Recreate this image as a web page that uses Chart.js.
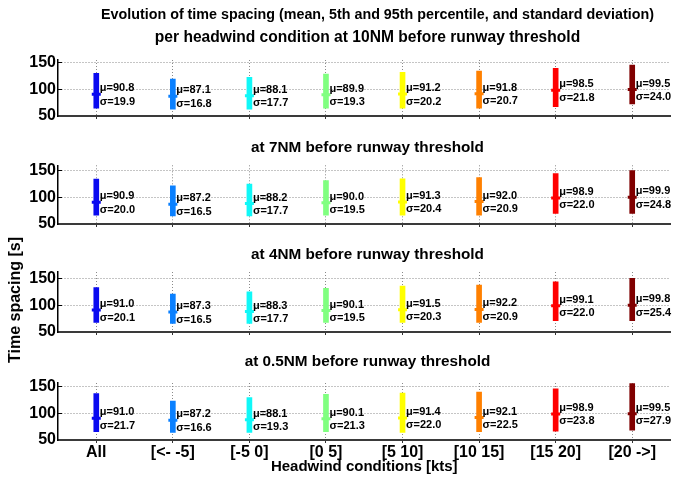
<!DOCTYPE html>
<html>
<head>
<meta charset="utf-8">
<script src="https://cdn.jsdelivr.net/npm/chart.js@4.4.1/dist/chart.umd.min.js"></script>
<style>
  body { margin: 0; background: #fff; }
  #wrap { position: relative; width: 678px; height: 477px; overflow: hidden; font-family: "Liberation Sans", Arial, sans-serif; }
  #wrap canvas { position: absolute; left: 0; top: 0; }
  .txt { position: absolute; left: 58px; width: 619px; text-align: center; font-weight: bold; color: #000; white-space: nowrap; line-height: 16px; }
  #ytitle { position: absolute; left: 15px; top: 300px; font-size: 16px; font-weight: bold; line-height: 18px; white-space: nowrap;
            transform: translate(-50%, -50%) rotate(-90deg); }
</style>
</head>
<body>
<div id="wrap">
  <canvas id="p1" width="678" height="477"></canvas>
  <canvas id="p2" width="678" height="477"></canvas>
  <canvas id="p3" width="678" height="477"></canvas>
  <canvas id="p4" width="678" height="477"></canvas>
  <div class="txt" style="top:6px; font-size:14.3px; left:68px">Evolution of time spacing (mean, 5th and 95th percentile, and standard deviation)</div>
  <div class="txt" style="top:29px; font-size:15.6px">per headwind condition at 10NM before runway threshold</div>
  <div class="txt" style="top:139px; font-size:15.3px">at 7NM before runway threshold</div>
  <div class="txt" style="top:246px; font-size:15.3px">at 4NM before runway threshold</div>
  <div class="txt" style="top:353px; font-size:15.3px">at 0.5NM before runway threshold</div>
  <div id="ytitle">Time spacing [s]</div>
</div>
<script>
const categories = ['All', '[<- -5]', '[-5 0]', '[0 5]', '[5 10]', '[10 15]', '[15 20]', '[20 ->]'];
const barColors = ['#0a0af0', '#0a80ff', '#10f8f8', '#80ff80', '#ffff00', '#ff8000', '#ff0000', '#800000'];
const yTicks = [50, 100, 150];

// 10NM
const mean10 = [90.8, 87.1, 88.1, 89.9, 91.2, 91.8, 98.5, 99.5];
const std10 = [19.9, 16.8, 17.7, 19.3, 20.2, 20.7, 21.8, 24.0];
const p5_10 = [64.5, 63, 63, 64.5, 64.5, 64.5, 67.5, 72.5];
const p95_10 = [130, 119, 122.6, 128.8, 132, 134.4, 139.5, 145.7];

// 7NM
const mean7 = [90.9, 87.2, 88.2, 90.0, 91.3, 92.0, 98.9, 99.9];
const std7 = [20.0, 16.5, 17.7, 19.5, 20.4, 20.9, 22.0, 24.8];
const p5_7 = [66.5, 65, 65, 66.5, 66.5, 66.5, 70, 70];
const p95_7 = [134, 121.3, 125, 131.5, 134.7, 137.2, 144.3, 150];

// 4NM
const mean4 = [91.0, 87.3, 88.3, 90.1, 91.5, 92.2, 99.1, 99.8];
const std4 = [20.1, 16.5, 17.7, 19.5, 20.3, 20.9, 22.0, 25.4];
const p5_4 = [68, 66.2, 66.2, 68, 68, 68, 71, 71];
const p95_4 = [133, 121, 125, 131.4, 135.7, 137.5, 143.7, 150];

// 0.5NM
const mean05 = [91.0, 87.2, 88.1, 90.1, 91.4, 92.1, 98.9, 99.5];
const std05 = [21.7, 16.6, 19.3, 21.3, 22.0, 22.5, 23.8, 27.9];
const p5_05 = [65.5, 64.3, 64.3, 65.5, 64.3, 65.5, 66.8, 68.6];
const p95_05 = [137, 123, 129.5, 135.5, 138, 140, 146, 156];

const FONT = '"Liberation Sans", Arial, sans-serif';

// mu / sigma text next to each bar
const statLabels = {
  id: 'statLabels',
  afterDatasetsDraw(chart) {
    const {ctx, scales: {x, y}} = chart;
    const ds = chart.data.datasets[1];
    ctx.save();
    ctx.font = 'bold 11px ' + FONT;
    ctx.fillStyle = '#000';
    ctx.textBaseline = 'middle';
    ds.data.forEach((m, i) => {
      const px = x.getPixelForValue(i) + 3.5;
      const py = y.getPixelForValue(m);
      ctx.fillText('\u03bc=' + m.toFixed(1), px, py - 6);
      ctx.fillText('\u03c3=' + ds.stds[i].toFixed(1), px, py + 7.5);
    });
    ctx.restore();
  }
};

function makePanel(id, p5, p95, means, stds, area, last) {
  const xh = last ? 37 : 3;
  return new Chart(document.getElementById(id), {
    type: 'bar',
    data: {
      labels: categories,
      datasets: [
        {
          type: 'bar',
          data: p5.map((v, i) => [v, p95[i]]),
          backgroundColor: barColors,
          borderWidth: 0,
          barThickness: 5,
          order: 2
        },
        {
          type: 'line',
          data: means,
          stds: stds,
          showLine: false,
          pointStyle: 'line',
          pointRadius: 4.5,
          pointBorderWidth: 3,
          pointBorderColor: barColors,
          pointBackgroundColor: barColors,
          order: 1
        }
      ]
    },
    options: {
      responsive: false,
      animation: false,
      events: [],
      layout: { padding: { top: area.top, bottom: 477 - area.bottom - xh, left: 0, right: 1 } },
      plugins: { legend: { display: false }, tooltip: { enabled: false } },
      scales: {
        x: {
          grid: { offset: false, color: '#8a8a8a', tickLength: 3, tickColor: '#333' },
          border: { color: '#3a3a3a', width: 2, dash: [1, 2] },
          ticks: { display: last, font: { size: 16, weight: 'bold', family: FONT }, color: '#000', padding: 0, maxRotation: 0, autoSkip: false },
          title: { display: last, text: 'Headwind conditions [kts]', font: { size: 15, weight: 'bold', family: FONT }, color: '#000', padding: { top: 0, bottom: 1.5 } },
          afterFit: s => { s.height = xh; s.paddingLeft = 0; s.paddingRight = 0; }
        },
        y: {
          min: 50,
          max: area.max,
          afterBuildTicks: s => { s.ticks = yTicks.map(v => ({ value: v })); },
          grid: { color: '#8a8a8a', tickLength: -4, tickColor: '#000' },
          border: { color: '#000', width: 1.5, dash: [1, 2] },
          ticks: { font: { size: 16, weight: 'bold', family: FONT }, color: '#000', padding: 6 },
          afterFit: s => { s.width = 58; s.paddingTop = 0; s.paddingBottom = 0; }
        }
      }
    },
    plugins: [statLabels]
  });
}

makePanel('p1', p5_10, p95_10, mean10, std10, { top: 60, bottom: 116, max: 155 }, false);
makePanel('p2', p5_7, p95_7, mean7, std7, { top: 165.3, bottom: 224, max: 160 }, false);
makePanel('p3', p5_4, p95_4, mean4, std4, { top: 272, bottom: 332, max: 162 }, false);
makePanel('p4', p5_05, p95_05, mean05, std05, { top: 383, bottom: 440, max: 157 }, true);
</script>
</body>
</html>
